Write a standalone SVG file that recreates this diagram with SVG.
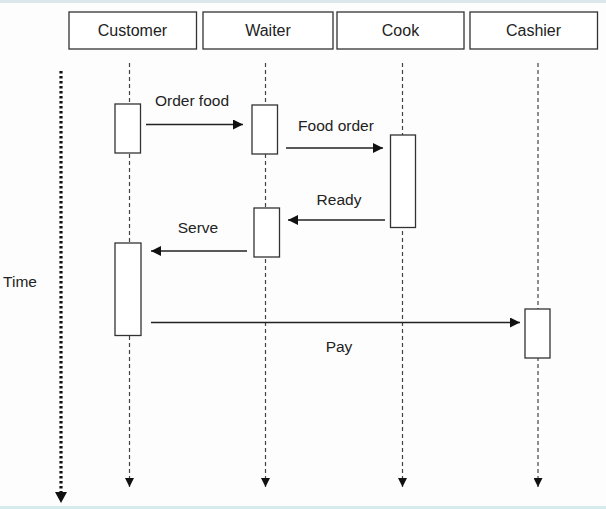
<svg xmlns="http://www.w3.org/2000/svg" width="606" height="509" viewBox="0 0 606 509">
<defs>
<style>
.hdr{fill:#fff;stroke:#333;stroke-width:1.3}
.act{fill:#fff;stroke:#333;stroke-width:1.3}
.life{stroke:#444;stroke-width:1.2;stroke-dasharray:4 3;fill:none}
.msg{stroke:#222;stroke-width:1.4;fill:none}
.t{font-family:"Liberation Sans",Arial,sans-serif;font-size:15.5px;fill:#222;text-anchor:middle}
.h{font-size:16px}
</style>
<marker id="ah" viewBox="0 0 10 10" refX="10" refY="5" markerWidth="10" markerHeight="10" markerUnits="userSpaceOnUse" orient="auto">
<path d="M0,0 L10,5 L0,10 Z" fill="#111"/>
</marker>
<marker id="lh" viewBox="0 0 10 10" refX="10" refY="5" markerWidth="9" markerHeight="9" markerUnits="userSpaceOnUse" orient="auto">
<path d="M0,0 L10,5 L0,10 Z" fill="#111"/>
</marker>
</defs>
<rect x="0" y="0" width="606" height="509" fill="#fdfdfd"/>
<rect x="0" y="0" width="606" height="3" fill="#dbe7ea"/>
<rect x="0" y="506" width="606" height="3" fill="#d6ecec"/>

<g id="lifelines">
<line class="life" x1="129.5" y1="63" x2="129.5" y2="487" marker-end="url(#lh)"/>
<line class="life" x1="265.5" y1="63" x2="265.5" y2="487" marker-end="url(#lh)"/>
<line class="life" x1="402.5" y1="63" x2="402.5" y2="487" marker-end="url(#lh)"/>
<line class="life" x1="538" y1="63" x2="538" y2="487" marker-end="url(#lh)"/>
</g>

<g id="time">
<line x1="61" y1="71" x2="61" y2="492" stroke="#111" stroke-width="3.2" stroke-dasharray="2.6 2.4"/>
<path d="M55,492 L67,492 L61,503 Z" fill="#111"/>
<text class="t" x="20" y="287">Time</text>
</g>

<g id="customer">
<rect class="hdr" x="69" y="12" width="127.5" height="37"/>
<text class="t h" x="132.5" y="36">Customer</text>
<rect class="act" x="115" y="104" width="25.5" height="49"/>
<rect class="act" x="115" y="243" width="26" height="92.5"/>
</g>
<g id="waiter">
<rect class="hdr" x="203" y="12" width="130" height="37"/>
<text class="t h" x="268" y="36">Waiter</text>
<rect class="act" x="252" y="105" width="25.5" height="49"/>
<rect class="act" x="254" y="208" width="25.5" height="49"/>
</g>
<g id="cook">
<rect class="hdr" x="337" y="12" width="127" height="37"/>
<text class="t h" x="400.5" y="36">Cook</text>
<rect class="act" x="390.5" y="135" width="25" height="92.5"/>
</g>
<g id="cashier">
<rect class="hdr" x="470" y="12" width="127.5" height="37"/>
<text class="t h" x="533.5" y="36">Cashier</text>
<rect class="act" x="525" y="309" width="25" height="49"/>
</g>

<g id="connectors">
<line class="msg" x1="146" y1="124.5" x2="243" y2="124.5" marker-end="url(#ah)"/>
<text class="t" x="192" y="106">Order food</text>
<line class="msg" x1="286" y1="148" x2="383" y2="148" marker-end="url(#ah)"/>
<text class="t" x="336" y="131">Food order</text>
<line class="msg" x1="385" y1="220" x2="288" y2="220" marker-end="url(#ah)"/>
<text class="t" x="339" y="205">Ready</text>
<line class="msg" x1="247" y1="251" x2="151" y2="251" marker-end="url(#ah)"/>
<text class="t" x="198" y="233">Serve</text>
<line class="msg" x1="151" y1="322.5" x2="520" y2="322.5" marker-end="url(#ah)"/>
<text class="t" x="339" y="352">Pay</text>
</g>
</svg>
